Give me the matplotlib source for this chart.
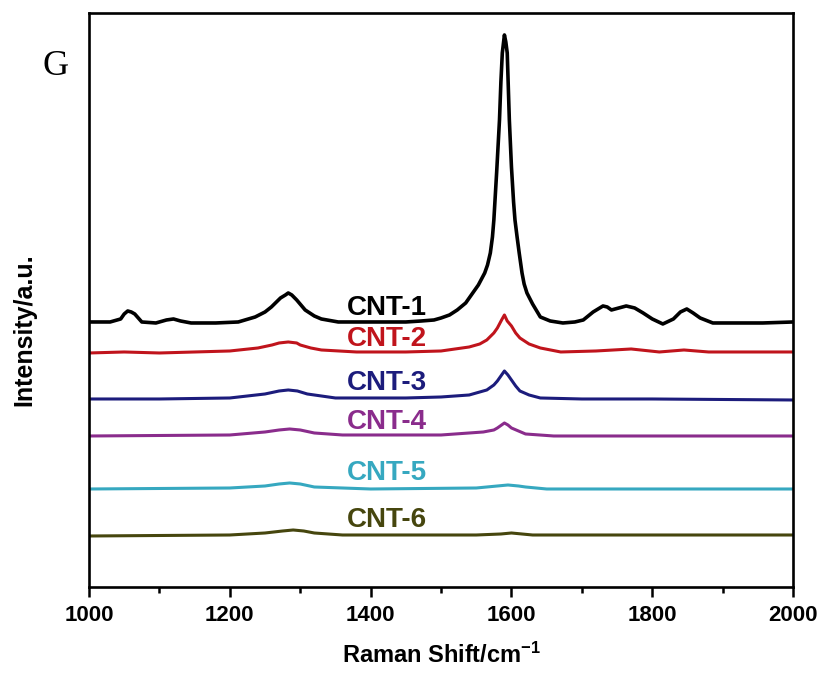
import matplotlib
matplotlib.use('Agg')
import matplotlib.pyplot as plt
from matplotlib.ticker import MultipleLocator

plt.rcParams['font.family'] = ['Liberation Sans', 'DejaVu Sans']
plt.rcParams['font.weight'] = 'bold'
plt.rcParams['mathtext.fontset'] = 'custom'
plt.rcParams['mathtext.bf'] = 'Liberation Sans:bold'
plt.rcParams['mathtext.rm'] = 'Liberation Sans:bold'
plt.rcParams['mathtext.default'] = 'bf'

# Raman spectra (stacked, a.u.)
shift_1 = [1000, 1030, 1045, 1050, 1055, 1060, 1065, 1075, 1095, 1110, 1120, 1130,
           1145, 1180, 1212, 1236, 1250, 1259, 1272, 1279, 1283, 1288, 1295, 1307, 1320, 1330,
           1354, 1400, 1450, 1472, 1490, 1500, 1512, 1523, 1535, 1545, 1553, 1562, 1566, 1570,
           1573, 1575, 1579, 1583, 1585, 1587, 1590, 1592, 1594, 1597, 1600, 1603, 1605,
           1608, 1611, 1615, 1618, 1622, 1630, 1641, 1655,
           1673, 1690, 1702, 1716, 1730, 1736, 1742, 1763, 1775, 1787, 1800, 1815, 1830, 1840, 1849,
           1858, 1868, 1886, 1957, 2000]
cnt1 = [265, 265, 268, 273, 276, 275, 273, 265, 264, 267, 268, 266,
        264, 264, 265, 270, 275, 280, 289, 292, 294, 292, 287, 277, 271, 268,
        265, 265, 265, 266, 267, 269, 272, 277, 284, 294, 302, 314, 322, 334,
        350, 367, 415, 467, 505, 534, 552, 545, 534, 467, 420, 385, 367,
        350, 334, 314, 303, 294, 283, 270, 266,
        264, 265, 267, 275, 281, 280, 277, 281, 279, 274, 268, 263, 268, 275, 278,
        274, 269, 264, 264, 265]

shift_2 = [1000, 1050, 1100, 1150, 1200, 1240, 1260, 1270, 1283, 1295, 1300, 1315, 1330, 1380,
           1450, 1500, 1540, 1555, 1565, 1575, 1580, 1586, 1590, 1594, 1600, 1606, 1612, 1625,
           1641, 1670, 1720, 1770, 1810, 1845, 1880, 2000]
cnt2 = [234, 235, 234, 235, 236, 239, 242, 244, 245, 244, 242, 239, 237, 235,
        235, 236, 240, 243, 247, 254, 259, 267, 272, 266, 261, 254, 249, 243,
        239, 235, 236, 238, 235, 237, 235, 235]

shift_3 = [1000, 1100, 1200, 1250, 1270, 1283, 1296, 1310, 1350, 1450, 1500, 1540,
           1565, 1575, 1580, 1586, 1590, 1595, 1600, 1606, 1612, 1625, 1641, 1700, 1800, 2000]
cnt3 = [188, 188, 189, 193, 196, 197, 196, 193, 189, 189, 190, 192,
        197, 202, 206, 212, 216, 212, 207, 201, 196, 192, 189, 188, 188, 187]

shift_4 = [1000, 1200, 1250, 1270, 1285, 1300, 1320, 1360, 1500, 1560, 1575, 1580, 1586, 1590,
           1595, 1600, 1610, 1620, 1660, 2000]
cnt4 = [151, 152, 155, 157, 158, 157, 154, 152, 152, 155, 157, 159, 162, 164,
        162, 159, 156, 153, 151, 151]

shift_5 = [1000, 1200, 1250, 1270, 1285, 1300, 1320, 1400, 1550, 1580, 1595, 1610, 1620, 1650, 2000]
cnt5 = [98, 99, 101, 103, 104, 103, 100, 98, 99, 101, 102, 101, 100, 98, 98]

shift_6 = [1000, 1200, 1250, 1275, 1290, 1305, 1320, 1360, 1550, 1585, 1600, 1615, 1630, 2000]
cnt6 = [51, 52, 54, 56, 57, 56, 54, 52, 52, 53, 54, 53, 52, 52]

names = ['CNT-1', 'CNT-2', 'CNT-3', 'CNT-4', 'CNT-5', 'CNT-6']
label_y = [279, 248, 204, 165, 114, 67]
colors = ['#000000', '#c0141c', '#1c1c7c', '#8a2c8c', '#36a8c0', '#46460e']

shifts = [shift_1, shift_2, shift_3, shift_4, shift_5, shift_6]
spectra = [cnt1, cnt2, cnt3, cnt4, cnt5, cnt6]

fig = plt.figure(figsize=(8.24, 6.82), dpi=100)
ax = fig.add_axes([0.108, 0.1393, 0.8545, 0.8417])

for i in range(6):
    lw = 2.6 if i == 0 else 2.2
    ax.plot(shifts[i], spectra[i], color=colors[i], lw=lw,
            solid_joinstyle='round', solid_capstyle='round')
    ax.text(1366, label_y[i], names[i], color=colors[i], fontsize=20,
            fontweight='bold', ha='left', va='center')

ax.set_xlim(1000, 2000)
ax.set_ylim(0, 574)
ax.xaxis.set_major_locator(MultipleLocator(200))
ax.xaxis.set_minor_locator(MultipleLocator(100))
ax.set_yticks([])
ax.tick_params(axis='x', which='major', direction='out', length=7, width=1.8,
               labelsize=16, pad=6)
ax.tick_params(axis='x', which='minor', direction='out', length=4.3, width=1.8)
for lab in ax.get_xticklabels():
    lab.set_fontweight('bold')
for sp in ax.spines.values():
    sp.set_linewidth(1.9)

ax.set_xlabel('Raman Shift/cm$^{-1}$', fontsize=17, fontweight='bold', labelpad=12)
ax.set_ylabel('Intensity/a.u.', fontsize=18, fontweight='bold')
ax.yaxis.set_label_coords(-0.075, 0.449)

fig.text(0.068, 0.903, 'G', family=['Liberation Serif', 'DejaVu Serif'],
         fontsize=26, fontweight='normal', ha='center', va='center')

fig.savefig('out.png', dpi=100)
